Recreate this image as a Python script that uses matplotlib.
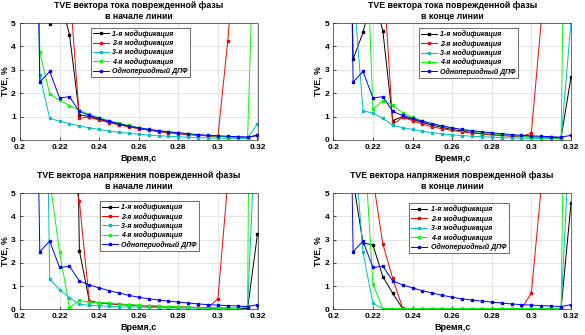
import matplotlib
matplotlib.use('agg')
import matplotlib.pyplot as plt
import numpy as np

plt.rcParams['font.family'] = ['Liberation Sans', 'DejaVu Sans']
plt.rcParams['font.weight'] = 'bold'

t = [0.205, 0.21, 0.215, 0.22, 0.225, 0.23, 0.235, 0.24, 0.245, 0.25, 0.255, 0.26,
     0.265, 0.27, 0.275, 0.28, 0.285, 0.29, 0.295, 0.3, 0.305, 0.31, 0.315, 0.32]

labels = ['1-я модификация', '2-я модификация', '3-я модификация',
          '4-я модификация', 'Однопериодный ДПФ']
colors = ['k', 'r', 'c', '#00ff00', 'b']

# one-period DFT is the same in all four plots
dft = [30, 2.48, 2.93, 1.8, 1.85, 1.22, 1.05, 0.92, 0.8, 0.7, 0.6, 0.52,
       0.45, 0.4, 0.35, 0.31, 0.27, 0.23, 0.2, 0.18, 0.16, 0.14, 0.12, 0.2]

# current, start of line
i_start_1 = [40, 25, 4.97, 6.2, 4.5, 1.08, 1.0, 0.88, 0.77, 0.67, 0.58, 0.5,
             0.43, 0.37, 0.32, 0.28, 0.24, 0.21, 0.18, 0.16, 0.14, 0.13, 0.12, 0.2]
i_start_2 = [40, 40, 40, 40, 6.6, 0.93, 0.98, 0.85, 0.74, 0.65, 0.56, 0.48,
             0.42, 0.36, 0.31, 0.27, 0.23, 0.2, 0.17, 0.15, 4.25, 9.6, 30, 30]
i_start_3 = [30, 2.78, 0.93, 0.8, 0.7, 0.6, 0.52, 0.45, 0.38, 0.33, 0.29, 0.25,
             0.21, 0.18, 0.16, 0.14, 0.12, 0.1, 0.09, 0.08, 0.07, 0.07, 0.07, 0.7]
i_start_4 = [30, 3.75, 1.97, 1.7, 1.47, 1.28, 1.1, 0.95, 0.83, 0.72, 0.62, 0.53,
             0.46, 0.4, 0.35, 0.3, 0.26, 0.22, 0.19, 0.16, 0.14, 0.12, 0.1, 13.7]

# current, end of line
i_end_1 = [30, 3.45, 4.6, 6.27, 4.67, 0.83, 1.0, 0.88, 0.75, 0.63, 0.54, 0.45,
           0.38, 0.32, 0.27, 0.23, 0.2, 0.17, 0.15, 0.13, 0.12, 0.11, 0.1, 2.68]
i_end_2 = [30, 30, 30, 30, 7.44, 0.66, 0.97, 0.83, 0.68, 0.56, 0.48, 0.41,
           0.35, 0.3, 0.26, 0.22, 0.19, 0.17, 0.15, 0.3, 5.1, 30, 30, 30]
i_end_3 = [30, 6.6, 1.25, 1.15, 0.92, 0.63, 0.53, 0.45, 0.37, 0.31, 0.26, 0.22,
           0.19, 0.16, 0.14, 0.12, 0.1, 0.09, 0.08, 0.07, 0.06, 0.06, 0.05, 5.05]
i_end_4 = [30, 30, 12.8, 1.32, 1.68, 1.5, 1.15, 0.97, 0.82, 0.68, 0.58, 0.5,
           0.43, 0.37, 0.32, 0.27, 0.23, 0.19, 0.16, 0.13, 0.11, 0.08, 0.05, 30]

# voltage, start of line
u_start_1 = [30, 30, 30, 30, 30, 2.52, 0.36, 0.27, 0.24, 0.21, 0.18, 0.16,
             0.14, 0.12, 0.1, 0.09, 0.08, 0.07, 0.06, 0.05, 0.05, 0.04, 0.03, 3.25]
u_start_2 = [30, 30, 30, 30, 6.4, 4.65, 0.35, 0.28, 0.25, 0.22, 0.19, 0.16,
             0.14, 0.13, 0.11, 0.1, 0.09, 0.08, 0.08, 0.45, 5.5, 30, 30, 30]
u_start_3 = [30, 30, 1.3, 0.85, 0.5, 0.22, 0.17, 0.15, 0.13, 0.11, 0.1, 0.09,
             0.08, 0.07, 0.06, 0.06, 0.05, 0.05, 0.05, 0.04, 0.04, 0.04, 0.1, 9.9]
u_start_4 = [30, 30, 5.6, 2.45, 0.08, 0.38, 0.3, 0.28, 0.27, 0.24, 0.2, 0.18,
             0.16, 0.14, 0.12, 0.1, 0.09, 0.07, 0.06, 0.05, 0.04, 0.02, 0.15, 60]

# voltage, end of line
u_end_1 = [30, 5.54, 2.85, 2.77, 1.4, 0.69, 0.03, 0.02, 0.02, 0.02, 0.02, 0.02,
           0.02, 0.02, 0.02, 0.02, 0.02, 0.02, 0.02, 0.02, 0.02, 0.02, 0.02, 4.56]
u_end_2 = [30, 30, 30, 5.62, 2.81, 1.33, 0.05, 0.03, 0.03, 0.03, 0.03, 0.03,
           0.03, 0.03, 0.03, 0.03, 0.03, 0.03, 0.03, 0.7, 5.27, 30, 30, 30]
u_end_3 = [30, 7.8, 2.45, 0.25, 0.03, 0.03, 0.03, 0.03, 0.03, 0.03, 0.03, 0.03,
           0.03, 0.03, 0.03, 0.03, 0.03, 0.03, 0.03, 0.03, 0.03, 0.03, 0.03, 8.6]
u_end_4 = [30, 30, 8.07, 1.09, 0.03, 0.03, 0.03, 0.03, 0.03, 0.03, 0.03, 0.03,
           0.03, 0.03, 0.03, 0.03, 0.03, 0.03, 0.03, 0.03, 0.03, 0.03, 0.05, 30]

titles = ['TVE вектора тока поврежденной фазы\nв начале линии',
          'TVE вектора тока поврежденной фазы\nв конце линии',
          'TVE вектора напряжения поврежденной фазы\nв начале линии',
          'TVE вектора напряжения поврежденной фазы\nв конце линии']

panels = [
    [i_start_1, i_start_2, i_start_3, i_start_4, dft],
    [i_end_1, i_end_2, i_end_3, i_end_4, dft],
    [u_start_1, u_start_2, u_start_3, u_start_4, dft],
    [u_end_1, u_end_2, u_end_3, u_end_4, dft],
]

# axes boxes in pixels (left, top, right, bottom) and legend anchor (axes coords)
W, H = 585, 335
boxes = [(20, 23, 257.5, 140), (333.3, 23, 571, 140),
         (20, 193, 257.5, 309.3), (333.3, 193, 571, 309.3)]
leg_pos = [(0.297, 0.96), (0.36, 0.955), (0.336, 0.93), (0.32, 0.91)]

xticks = [0.2, 0.22, 0.24, 0.26, 0.28, 0.3, 0.32]
xticklabels = ['0.2', '0.22', '0.24', '0.26', '0.28', '0.3', '0.32']

fig = plt.figure(figsize=(W / 100, H / 100), dpi=100)

for k in range(4):
    l, top, r, b = boxes[k]
    ax = fig.add_axes([l / W, 1 - b / H, (r - l) / W, (b - top) / H])
    for series, c, lab in zip(panels[k], colors, labels):
        ax.plot(t, series, color=c, lw=0.7, marker='s', markersize=1.6,
                label=lab)
    ax.set_xlim(0.2, 0.32)
    ax.set_ylim(0, 5)
    ax.set_xticks(xticks)
    ax.set_xticklabels(xticklabels)
    ax.set_yticks([0, 1, 2, 3, 4, 5])
    ax.tick_params(labelsize=6, length=2, width=0.5, direction='in')
    ax.tick_params(axis='x', pad=3)
    ax.tick_params(axis='y', pad=3)
    ax.grid(True, color='#dcdcdc', lw=0.5)
    ax.set_axisbelow(True)
    for s in ax.spines.values():
        s.set_linewidth(0.5)
        s.set_color('#333333')
    ax.set_title(titles[k], fontsize=6.3, fontweight='bold', pad=3,
                 linespacing=1.3)
    ax.set_ylabel('TVE, %', fontsize=6.3, fontweight='bold')
    ax.yaxis.set_label_coords(-10.5 / (r - l), 0.5)
    ax.set_xlabel('Время,с', fontsize=6.5, fontweight='bold', labelpad=2)
    leg = ax.legend(loc='upper left', bbox_to_anchor=leg_pos[k],
                    prop={'style': 'italic', 'weight': 'bold', 'size': 5.0},
                    handlelength=2.3, labelspacing=0.22, borderpad=0.3,
                    handletextpad=0.5, fancybox=False, framealpha=1,
                    edgecolor='#333333', borderaxespad=0)
    leg.get_frame().set_linewidth(0.5)

plt.savefig('out.png', dpi=100)
